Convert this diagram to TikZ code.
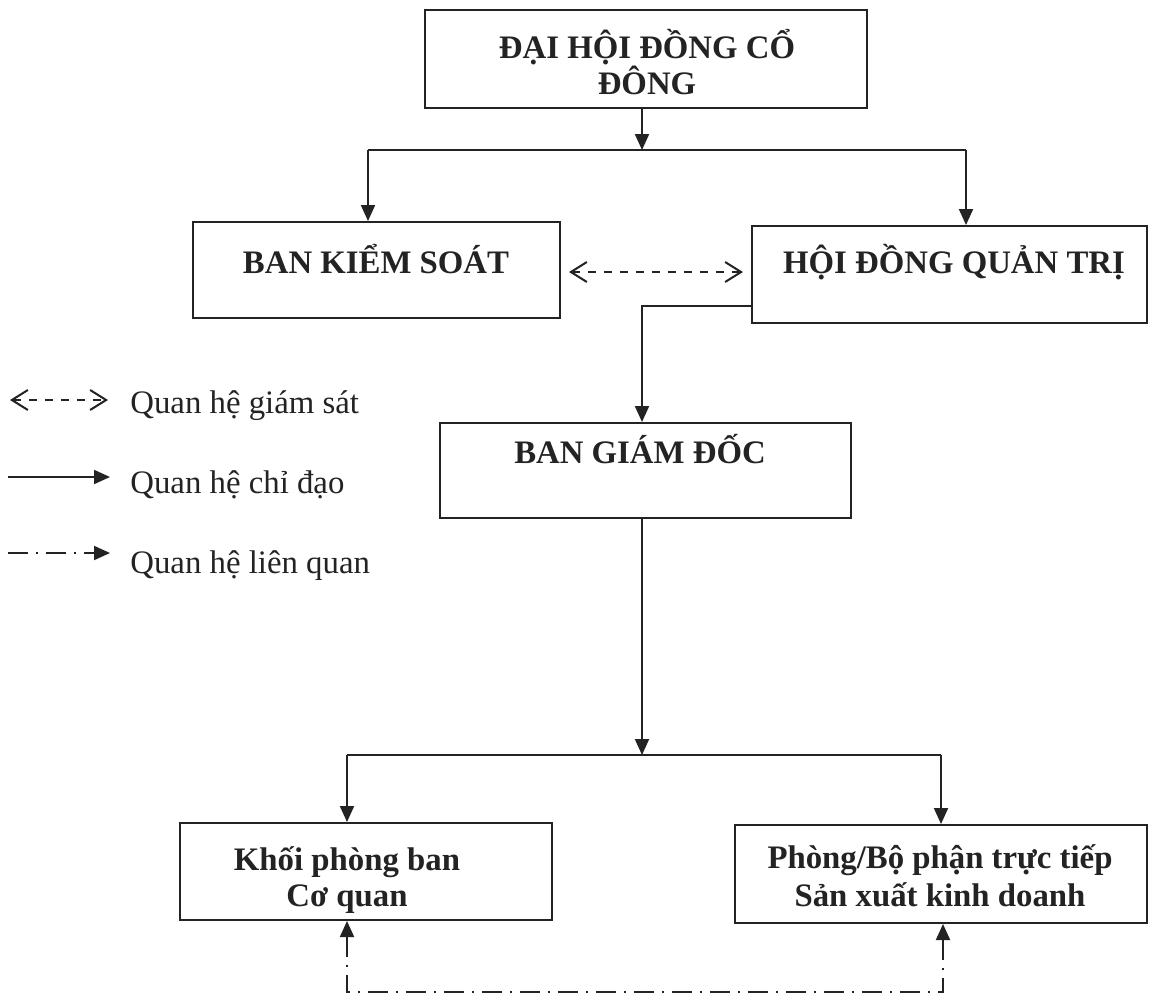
\documentclass[tikz,border=0pt]{standalone}
\usepackage{fontspec}
\setmainfont{Liberation Serif}
\usetikzlibrary{arrows.meta}
\definecolor{ink}{RGB}{35,35,35}
\begin{document}
\begin{tikzpicture}[x=0.5pt,y=-0.5pt,
  box/.style={draw=ink, line width=1pt, inner sep=0pt, rectangle},
  lbl/.style={font=\fontsize{16.4}{18}\selectfont\bfseries, text=ink, inner sep=0pt, anchor=base},
  leg/.style={font=\fontsize{16.4}{18}\selectfont, text=ink, inner sep=0pt, anchor=base west},
  wire/.style={draw=ink, line width=1pt},
  conn/.style={wire, -{Triangle[length=8pt,width=7pt]}},
  supv/.style={draw=ink, line width=1pt, dash pattern=on 4pt off 4pt,
     {Straight Barb[length=8pt,width=10pt]}-{Straight Barb[length=8pt,width=10pt]}},
  rel/.style={draw=ink, line width=1pt, dash pattern=on 10pt off 4pt on 1pt off 4pt},
]
\useasboundingbox[fill=white] (0,0) rectangle (1149,997);

% boxes
\node[box, minimum width=221pt, minimum height=49pt] (dhcd) at (646,59) {};
\node[box, minimum width=183.5pt, minimum height=48pt] (bks) at (376.5,270) {};
\node[box, minimum width=197.5pt, minimum height=48.5pt] (hdqt) at (949.5,274.5) {};
\node[box, minimum width=205.5pt, minimum height=47.5pt] (bgd) at (645.5,470.5) {};
\node[box, minimum width=186pt, minimum height=48.5pt] (khoi) at (366,871.5) {};
\node[box, minimum width=206pt, minimum height=49pt] (phong) at (941,874) {};

% box texts
\node[lbl] (t0a) at (647,58) {ĐẠI HỘI ĐỒNG CỔ};
\node[lbl] (t0b) at (647,94) {ĐÔNG};
\node[lbl] (t1) at (376,273) {BAN KIỂM SOÁT};
\node[lbl] (t2) at (954,273) {HỘI ĐỒNG QUẢN TRỊ};
\node[lbl] (t3) at (640,463) {BAN GIÁM ĐỐC};
\node[lbl] (t4a) at (347,870) {Khối phòng ban};
\node[lbl] (t4b) at (347,906) {Cơ quan};
\node[lbl] (t5a) at (940,868) {Phòng/Bộ phận trực tiếp};
\node[lbl] (t5b) at (940,906) {Sản xuất kinh doanh};

% connectors
\coordinate (j1) at (642,150);
\coordinate (j1l) at (368,150);
\coordinate (j1r) at (966,150);
\draw[conn] (dhcd.south -| j1) -- (j1);
\draw[wire] (j1l) -- (j1r);
\draw[conn] (j1l) -- (bks.north -| j1l);
\draw[conn] (j1r) -- (hdqt.north -| j1r);

\coordinate (s) at (0,272);
\draw[supv, shorten <=4pt, shorten >=4pt] (bks.east |- s) -- (hdqt.west |- s);

\coordinate (k) at (642,306);
\draw[conn] (hdqt.west |- k) -- (k) -- (bgd.north -| k);

\coordinate (j2) at (642,755);
\coordinate (j2l) at (347,755);
\coordinate (j2r) at (941,755);
\draw[conn] (bgd.south -| j2) -- (j2);
\draw[wire] (j2l) -- (j2r);
\draw[conn] (j2l) -- (khoi.north -| j2l);
\draw[conn] (j2r) -- (phong.north -| j2r);

\coordinate (bl) at (347,992);
\coordinate (br) at (943,992);
\draw[rel, {Triangle[length=8pt,width=7pt]}-{Triangle[length=8pt,width=7pt]}]
  (khoi.south -| bl) -- (bl) -- (br) -- (phong.south -| br);

% legend
\coordinate (la1) at (10,400);
\coordinate (la2) at (108,400);
\draw[supv] (la1) -- (la2);
\node[leg] (lt1) at (130,413) {Quan hệ giám sát};

\coordinate (lb1) at (8,477);
\coordinate (lb2) at (110,477);
\draw[conn] (lb1) -- (lb2);
\node[leg] (lt2) at (130,493) {Quan hệ chỉ đạo};

\coordinate (lc1) at (8,553);
\coordinate (lc2) at (110,553);
\draw[rel, -{Triangle[length=8pt,width=7pt]}] (lc1) -- (lc2);
\node[leg] (lt3) at (130,573) {Quan hệ liên quan};
\end{tikzpicture}
\end{document}
